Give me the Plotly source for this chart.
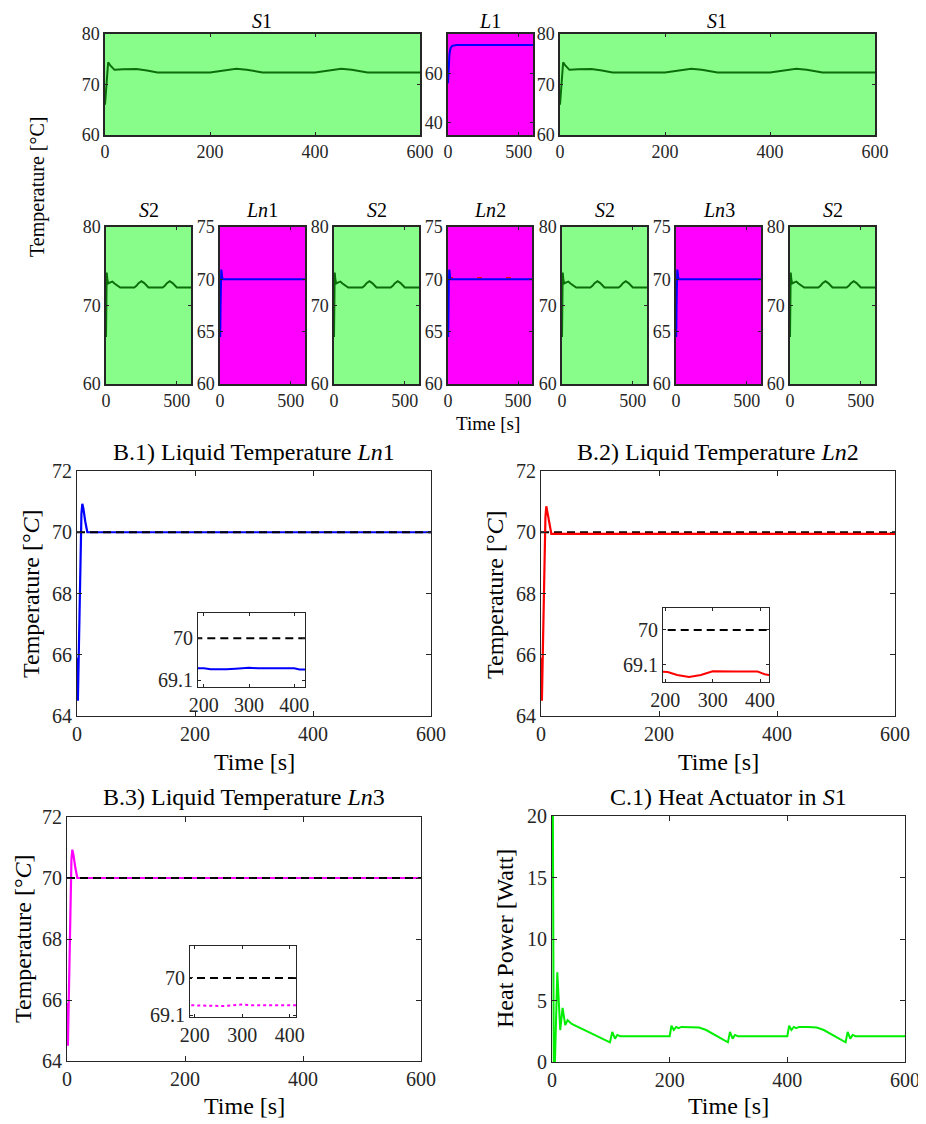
import plotly.graph_objects as go

PAGE_W, PAGE_H = 926, 1124
OFF = 8  # default body margin of the html page
W, H = PAGE_W - OFF, PAGE_H - OFF
FONT = "Liberation Serif"
TXT = "#262626"

# ---------------- data ----------------
# top row: S1 (solid temperature) and L1 (liquid temperature)
t_s1 = [0, 3, 6, 10, 18, 35, 60, 80, 100, 200, 215, 230, 250, 270, 285, 300, 400, 415, 430, 450, 470, 485, 500, 600]
T_s1 = [66.0, 71.0, 74.4, 73.8, 72.9, 73.0, 73.05, 72.75, 72.4, 72.4, 72.6, 72.9, 73.1, 72.9, 72.6, 72.4, 72.4, 72.6, 72.9, 73.1, 72.9, 72.6, 72.4, 72.4]

t_l1 = [0, 2, 5, 10, 15, 20, 30, 40, 60, 600]
T_l1 = [56.0, 60.0, 64.0, 67.5, 69.5, 70.5, 71.2, 71.4, 71.5, 71.5]

# middle row: S2 and Ln (liquid) panels
t_s2 = [0, 2, 5, 9, 15, 30, 45, 60, 100, 200, 215, 230, 250, 270, 285, 300, 400, 415, 430, 450, 470, 485, 500, 600]
T_s2 = [66.0, 70.0, 74.2, 73.4, 72.8, 72.95, 73.05, 72.8, 72.3, 72.3, 72.5, 72.85, 73.1, 72.85, 72.5, 72.3, 72.3, 72.5, 72.85, 73.1, 72.85, 72.5, 72.3, 72.3]

# B panels: liquid temperatures Ln1, Ln2, Ln3 and reference
t_ln = [0, 0.6, 1.5, 2.5, 4, 6, 7.5, 9, 11, 14, 17.5, 600]
T_ln1 = [65.9, 65.2, 64.5, 65.5, 67.5, 69.8, 70.6, 70.93, 70.75, 70.35, 70.0, 70.0]
T_ln2 = [65.9, 65.2, 64.5, 65.5, 67.5, 69.7, 70.5, 70.85, 70.65, 70.25, 69.95, 69.95]
T_ln3 = [65.9, 65.2, 64.5, 65.5, 67.5, 69.8, 70.6, 70.93, 70.75, 70.35, 70.0, 70.0]
t_ref = [0, 600]
T_ref = [70.0, 70.0]
T_ref_ln2_panel = [70.15, 70.15]

# inset (zoom 200-400 s)
t_in1 = [180, 200, 215, 230, 250, 270, 290, 300, 320, 350, 380, 400, 412, 430]
T_in1 = [69.36, 69.36, 69.34, 69.335, 69.34, 69.35, 69.365, 69.37, 69.36, 69.36, 69.36, 69.36, 69.335, 69.33]
t_in2 = [190, 205, 225, 250, 275, 300, 350, 395, 410, 425]
T_in2 = [68.92, 68.91, 68.83, 68.78, 68.83, 68.93, 68.92, 68.92, 68.85, 68.82]
t_in3 = [180, 200, 220, 240, 260, 280, 300, 320, 350, 380, 400, 420]
T_in3 = [69.345, 69.34, 69.32, 69.315, 69.325, 69.34, 69.36, 69.345, 69.345, 69.345, 69.345, 69.34]
t_in_ref = [150, 450]
T_in_ref = [70.0, 70.0]

# C.1 heat actuator power in S1
t_heat = [0, 1.5, 3, 5, 9, 14, 18, 22.5, 26.5, 33.5, 98.5, 102.5, 107, 111, 116, 200, 203, 207, 211, 215, 220, 235, 250, 262, 275, 288, 299,
          302.5, 307, 311, 316, 400, 403, 407, 411, 415, 420, 435, 450, 462, 475, 488, 499, 502.5, 507, 511, 516, 600]
P_heat = [20, 20, 0, 0, 7.3, 2.6, 4.4, 3.0, 3.4, 3.1, 1.6, 2.45, 1.9, 2.2, 2.1, 2.1, 2.95, 2.6, 2.85, 2.75, 2.85, 2.85, 2.8, 2.6, 2.25, 1.9, 1.6,
          2.45, 1.9, 2.2, 2.1, 2.1, 2.95, 2.6, 2.85, 2.75, 2.85, 2.85, 2.8, 2.6, 2.25, 1.9, 1.6, 2.45, 1.9, 2.2, 2.1, 2.1]

# tick values
tick_x_long = [0, 200, 400, 600]
tick_x_short = [0, 500]
tick_y_s = [60, 70, 80]
tick_y_l1 = [40, 60]
tick_y_ln = [60, 65, 70, 75]
tick_y_b = [64, 66, 68, 70, 72]
tick_x_in = [200, 300, 400]
tick_y_in = [69.1, 70]
tick_y_heat = [0, 5, 10, 15, 20]

GREEN_BG = "#89fd89"
MAG = "#ff00ff"
DKGREEN = "#0b6e0b"

fig = go.Figure()
layout = {}
shapes = []
annotations = []


def px(x):
    return (x - OFF) / W


def py(y):
    return 1 - (y - OFF) / H


def key(i):
    return "" if i == 1 else str(i)


def add_axes(i, box, xr, yr, xt, yt, fs, lw=1.0, tl=4, bg=None, ytt=None, xtt=None):
    k = key(i)
    x0, x1, y0, y1 = box
    common = dict(showline=True, linecolor=TXT, linewidth=lw, mirror="ticks", ticks="inside",
                  ticklen=tl, tickwidth=1, tickcolor=TXT, showgrid=False, zeroline=False,
                  automargin=False,
                  tickfont=dict(family=FONT, size=fs, color=TXT), fixedrange=True)
    layout["xaxis" + k] = dict(domain=[px(x0), px(x1)], range=xr, tickvals=xt, anchor="y" + k, **common)
    if xtt is not None:
        layout["xaxis" + k]["ticktext"] = xtt
    layout["yaxis" + k] = dict(domain=[py(y1), py(y0)], range=yr, tickvals=yt, anchor="x" + k, **common)
    if ytt is not None:
        layout["yaxis" + k]["ticktext"] = ytt
    if bg is not None:
        shapes.append(dict(type="rect", xref="x" + k + " domain", yref="y" + k + " domain",
                           x0=0, x1=1, y0=0, y1=1, fillcolor=bg, line=dict(width=0), layer="below"))


def line(i, x, y, color, width=2, dash="solid"):
    k = key(i)
    fig.add_trace(go.Scatter(x=x, y=y, mode="lines", xaxis="x" + k, yaxis="y" + k,
                             line=dict(color=color, width=width, dash=dash), showlegend=False,
                             hoverinfo="skip"))


def text(x, y, s, size, angle=0, color="black", yanchor="middle"):
    annotations.append(dict(x=px(x), y=py(y), xref="paper", yref="paper", text=s, showarrow=False,
                            textangle=angle, xanchor="center", yanchor=yanchor,
                            font=dict(family=FONT, size=size, color=color)))


SMALL_TICK = 18
SMALL_TITLE = 20

# ---------- top row ----------
add_axes(1, (105, 420, 34, 135), [0, 600], [60, 80], tick_x_long, tick_y_s, SMALL_TICK, lw=1.5, tl=3, bg=GREEN_BG)
line(1, t_s1, T_s1, DKGREEN, 2)
add_axes(2, (448, 533, 34, 135), [0, 600], [35, 76], tick_x_short, tick_y_l1, SMALL_TICK, lw=1.5, tl=3, bg=MAG)
line(2, t_l1, T_l1, "#0000ff", 2)
add_axes(3, (560, 875, 34, 135), [0, 600], [60, 80], tick_x_long, tick_y_s, SMALL_TICK, lw=1.5, tl=3, bg=GREEN_BG)
line(3, t_s1, T_s1, DKGREEN, 2)

text(262, 8, "<i>S</i>1", SMALL_TITLE, yanchor="top")
text(490, 8, "<i>L</i>1", SMALL_TITLE, yanchor="top")
text(717, 8, "<i>S</i>1", SMALL_TITLE, yanchor="top")

# ---------- middle row ----------
mid_boxes = [(106, 191), (220, 305), (334, 419), (448, 532), (562, 647), (676, 761), (790, 875)]
mid_titles = ["<i>S</i>2", "<i>Ln</i>1", "<i>S</i>2", "<i>Ln</i>2", "<i>S</i>2", "<i>Ln</i>3", "<i>S</i>2"]
for j, (bx0, bx1) in enumerate(mid_boxes):
    i = 4 + j
    if j % 2 == 0:
        add_axes(i, (bx0, bx1, 227, 384), [0, 600], [60, 80], tick_x_short, tick_y_s, SMALL_TICK, lw=1.5, tl=3, bg=GREEN_BG)
        line(i, t_s2, T_s2, DKGREEN, 2)
    else:
        add_axes(i, (bx0, bx1, 227, 384), [0, 600], [60, 75], tick_x_short, tick_y_ln, SMALL_TICK, lw=1.5, tl=3, bg=MAG)
        if j == 3:
            line(i, t_ref, T_ref_ln2_panel, "#ff0000", 1.5, "5px,24px")
        line(i, t_ln, T_ln1, "#0000ff", 2)
    text((bx0 + bx1) / 2, 210, mid_titles[j], SMALL_TITLE)

text(38, 187, "Temperature [°C]", 20, angle=-90)
text(488, 424, "Time [s]", 19)

# ---------- B panels ----------
DASH = "8px,5px"
BT = 20   # tick font
BL = 24   # title / label font
add_axes(11, (77, 431, 471, 716), [0, 600], [64, 72], tick_x_long, tick_y_b, BT, lw=1, tl=5)
line(11, t_ln, T_ln1, "#0000ff", 2.2)
line(11, t_ref, T_ref, "black", 2, DASH)
add_axes(12, (198, 305, 613, 687), [187, 424], [68.96, 70.54], tick_x_in, tick_y_in, BT, lw=1, tl=3,
         bg="white", ytt=["69.1", "70"])
line(12, t_in_ref, T_in_ref, "black", 2, DASH)
line(12, t_in1, T_in1, "#0000ff", 2)

add_axes(13, (541, 895, 471, 716), [0, 600], [64, 72], tick_x_long, tick_y_b, BT, lw=1, tl=5)
line(13, t_ref, T_ref, "black", 2, DASH)
line(13, t_ln, T_ln2, "#ff0000", 2.2)
add_axes(14, (663, 769, 608, 682), [195, 419], [68.65, 70.57], tick_x_in, tick_y_in, BT, lw=1, tl=3,
         bg="white", ytt=["69.1", "70"])
line(14, t_in_ref, T_in_ref, "black", 2, DASH)
line(14, t_in2, T_in2, "#ff0000", 2)

add_axes(15, (67, 421, 817, 1061), [0, 600], [64, 72], tick_x_long, tick_y_b, BT, lw=1, tl=5)
line(15, t_ln, T_ln3, MAG, 2.2)
line(15, t_ref, T_ref, "black", 2, DASH)
add_axes(16, (190, 296, 946, 1017), [190, 413], [69.06, 70.77], tick_x_in, tick_y_in, BT, lw=1, tl=3,
         bg="white", ytt=["69.1", "70"])
line(16, t_in_ref, T_in_ref, "black", 2, DASH)
line(16, t_in3, T_in3, MAG, 2, "dot")

add_axes(17, (552, 905, 816, 1062), [0, 600], [0, 20], tick_x_long, tick_y_heat, BT, lw=1, tl=5)
line(17, t_heat, P_heat, "#00ee00", 2)

text(254, 452, "B.1) Liquid Temperature <i>Ln</i>1", BL)
text(254, 762, "Time [s]", BL)
text(31, 594, "Temperature [°<i>C</i>]", BL, angle=-90)

text(718, 452, "B.2) Liquid Temperature <i>Ln</i>2", BL)
text(718, 762, "Time [s]", BL)
text(495, 594, "Temperature [°<i>C</i>]", BL, angle=-90)

text(244, 797, "B.3) Liquid Temperature <i>Ln</i>3", BL)
text(244, 1106, "Time [s]", BL)
text(23, 939, "Temperature [°<i>C</i>]", BL, angle=-90)

text(728, 797, "C.1) Heat Actuator in <i>S</i>1", BL)
text(728, 1106, "Time [s]", BL)
text(505, 939, "Heat Power [Watt]", BL, angle=-90)

fig.update_layout(
    width=W, height=H, margin=dict(l=0, r=0, t=0, b=0, autoexpand=False),
    paper_bgcolor="white", plot_bgcolor="rgba(0,0,0,0)",
    shapes=shapes, annotations=annotations, showlegend=False,
    font=dict(family=FONT, color=TXT),
    **layout,
)

fig.write_html("out.html")
